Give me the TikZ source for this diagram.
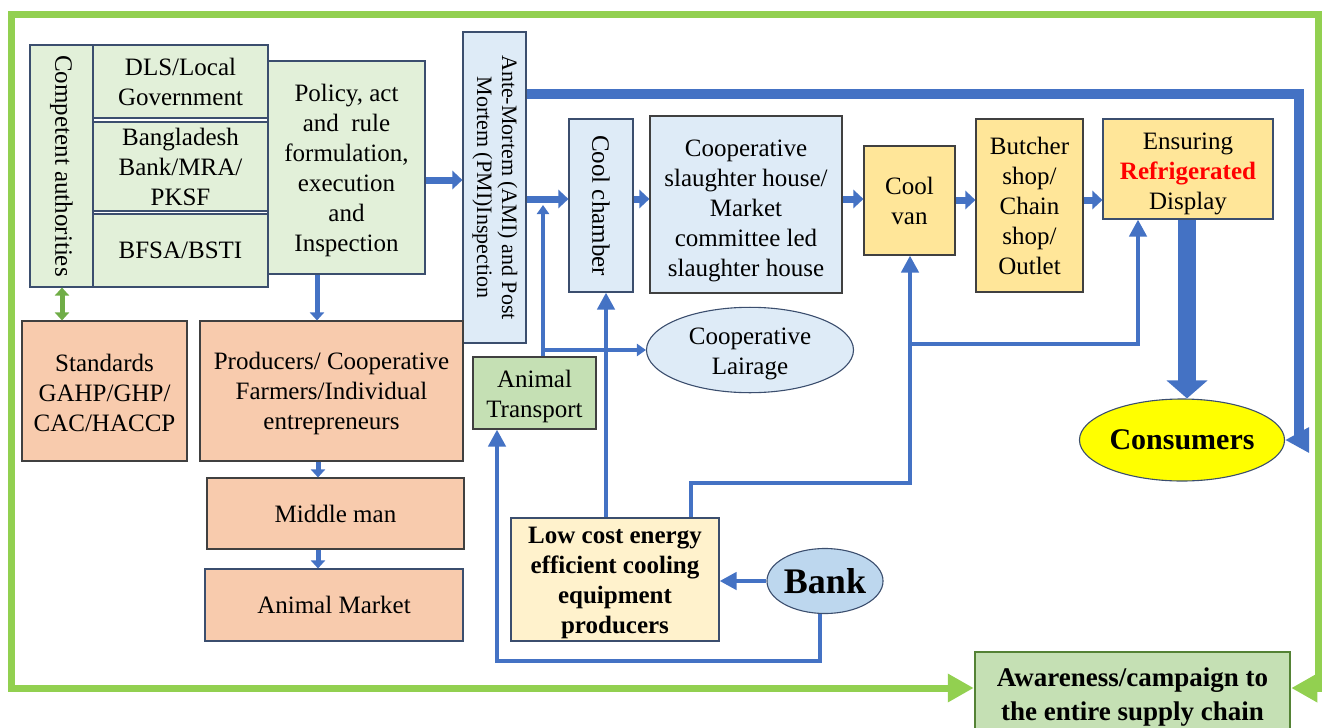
\documentclass[tikz,border=0pt]{standalone}
\usepackage{fontspec}
\setmainfont{Liberation Serif}
\usepackage{graphicx}
\usetikzlibrary{arrows.meta,shapes.geometric}
\definecolor{cFrame}{HTML}{92D050}
\definecolor{cGreenL}{HTML}{E2F0D9}
\definecolor{cGreenM}{HTML}{C5E0B4}
\definecolor{cGreenD}{HTML}{548235}
\definecolor{cGreenA}{HTML}{70AD47}
\definecolor{cPeach}{HTML}{F8CBAD}
\definecolor{cLBlue}{HTML}{DEEBF7}
\definecolor{cMBlue}{HTML}{BDD7EE}
\definecolor{cCream}{HTML}{FFF2CC}
\definecolor{cGold}{HTML}{FFE699}
\definecolor{cYellow}{HTML}{FFFF00}
\definecolor{cBlue}{HTML}{4472C4}
\definecolor{cEdge}{HTML}{404040}
\definecolor{cEdgeB}{HTML}{3B4E6E}
\definecolor{cRed}{HTML}{FF0000}
\newcommand{\tstrut}[1]{\rule{0pt}{#1pt}}
\begin{document}
\begin{tikzpicture}[x=1pt,y=-1pt,
  base/.style={draw=cEdge, line width=1.1pt, inner sep=0pt, align=center, font=\fontsize{25}{30}\selectfont},
  grn/.style={base, fill=cGreenL, draw=cEdgeB},
  peach/.style={base, fill=cPeach},
  lblue/.style={base, fill=cLBlue, draw=cEdgeB},
  gold/.style={base, fill=cGold},
  oval/.style={base, ellipse, draw=cEdgeB},
  hblk/.style={draw=cBlue, line width=7pt, -{Triangle[width=18pt,length=10pt]}},
  vblk/.style={draw=cBlue, line width=5pt, -{Triangle[width=14pt,length=8pt]}},
  conn/.style={draw=cBlue, line width=4.5pt},
  tipL/.style={-{Triangle[width=17pt,length=17pt]}},
  tipS/.style={-{Triangle[width=12pt,length=9pt]}},
  gline/.style={draw=cFrame, line width=7pt},
  gtip/.style={-{Triangle[width=27pt,length=26pt]}}
]
\clip (0,0) rectangle (1325,728);

% nodes
\node[grn, minimum width=63pt, minimum height=242pt] (CA) at (61.5,166) {\rotatebox{-90}{Competent authorities}};
\node[grn, minimum width=175pt, minimum height=73pt] (DLS) at (180.5,81.5) {\tstrut{19}DLS/Local\\Government};
\node[grn, minimum width=175pt, minimum height=89pt] (BB) at (180.5,166.5) {Bangladesh\\Bank/MRA/\\PKSF};
\node[grn, minimum width=175pt, minimum height=73pt] (BFSA) at (180.5,250.5) {BFSA/BSTI};
\node[grn, minimum width=157pt, minimum height=213pt] (Policy) at (346.5,167.5) {\tstrut{24}Policy, act\\and\ \ rule\\formulation,\\execution\\and\\Inspection};
\node[lblue, minimum width=63pt, minimum height=311pt] (AM) at (494.5,187.5) {\rotatebox{-90}{\fontsize{22}{25}\selectfont\begin{tabular}{@{}c@{}}Ante-Mortem (AMI) and Post\\Mortem (PMI)Inspection\end{tabular}}};
\node[peach, minimum width=165pt, minimum height=140pt] (Std) at (104.5,391) {\tstrut{21}Standards\\GAHP/GHP/\\CAC/HACCP};
\node[peach, minimum width=263pt, minimum height=140pt] (Prod) at (331.5,391) {\tstrut{23}Producers/ Cooperative\\Farmers/Individual\\entrepreneurs};
\node[peach, minimum width=257pt, minimum height=71pt] (Mid) at (335.5,513.5) {Middle man};
\node[peach, minimum width=258pt, minimum height=72pt, draw=cEdgeB] (AMk) at (334,605) {Animal Market};
\node[lblue, minimum width=64pt, minimum height=173pt] (Cool) at (601,205.5) {\rotatebox{-90}{Cool chamber}};
\node[lblue, draw=cEdge, minimum width=192pt, minimum height=177pt] (Sl) at (746,204.5) {\tstrut{29}Cooperative\\slaughter house/\\Market\\committee led\\slaughter house};
\node[base, fill=cGreenM, minimum width=123pt, minimum height=72pt] (AT) at (534.5,393) {\tstrut{25}Animal\\Transport};
\node[oval, fill=cLBlue, minimum width=207pt, minimum height=57pt] (Lair) at (750,350) {\tstrut{25}Cooperative\\Lairage};
\node[base, fill=cCream, draw=cEdgeB, minimum width=208pt, minimum height=123pt, font=\fontsize{25}{30}\selectfont\bfseries] (Low) at (615,579.5) {\tstrut{23}Low cost energy\\efficient cooling\\equipment\\producers};
\node[oval, fill=cMBlue, minimum width=109pt, minimum height=65pt, font=\fontsize{36}{40}\selectfont\bfseries] (Bank) at (825,581) {Bank};
\node[gold, minimum width=91pt, minimum height=109pt] (Van) at (909.5,200.5) {Cool\\van};
\node[gold, minimum width=107pt, minimum height=173pt] (But) at (1029.5,205.5) {Butcher\\shop/\\Chain\\shop/\\Outlet};
\node[gold, draw=cEdgeB, minimum width=170pt, minimum height=100pt] (Disp) at (1188,169) {\tstrut{27}Ensuring\\\textcolor{cRed}{\bfseries Refrigerated}\\Display};
\node[oval, fill=cYellow, minimum width=169pt, minimum height=82pt, font=\fontsize{30}{34}\selectfont\bfseries] (Cons) at (1182,440) {Consumers};
\node[base, fill=cGreenM, draw=cGreenD, line width=2.5pt, minimum width=315pt, minimum height=83pt, font=\fontsize{27}{34}\selectfont\bfseries] (Aw) at (1132.5,693.5) {\tstrut{25}Awareness/campaign to\\the entire supply chain};

% green frame
\draw[gline, gtip] (1318,14) -- (11,14) -- (11,688) -- (Aw.west |- 0,688);
\draw[gline, gtip] (1318,11) -- (1318,688) -- (Aw.east |- 0,688);

% block arrows
\draw[hblk] (Policy.east |- 0,180) -- (AM.west |- 0,180);
\draw[hblk] (AM.east |- 0,199) -- (Cool.west |- 0,199);
\draw[hblk] (Cool.east |- 0,199) -- (Sl.west |- 0,199);
\draw[hblk] (Sl.east |- 0,199) -- (Van.west |- 0,199);
\draw[hblk] (Van.east |- 0,200) -- (But.west |- 0,200);
\draw[hblk] (But.east |- 0,200) -- (Disp.west |- 0,200);
\draw[vblk] (Policy.south -| 317,0) -- (Prod.north -| 317,0);
\draw[vblk] (Prod.south -| 318,0) -- (Mid.north -| 318,0);
\draw[vblk] (Mid.south -| 318,0) -- (AMk.north -| 318,0);
\draw[draw=cGreenA, line width=5pt, {Triangle[width=14pt,length=8pt]}-{Triangle[width=14pt,length=8pt]}] (CA.south -| 62,0) -- (Std.north -| 62,0);

% thick connectors
\draw[draw=cBlue, line width=10pt, -{Triangle[width=24pt,length=24pt]}] (AM.east |- 0,94) -| (1299,440) -- (Cons.east);
\draw[draw=cBlue, line width=18pt, -{Triangle[width=40pt,length=18pt]}] (Disp.south -| 1187,0) -- (Cons.north -| 1187,0);

% thin connectors
\coordinate (jAT) at (543,205);
\draw[conn, tipS] (AT.north -| 543,0) -- (jAT);
\draw[conn, tipS] (Lair.west -| 543,0) -- (Lair.west);
\draw[conn, tipL] (Low.north -| 606,0) -- (Cool.south -| 606,0);
\draw[conn, tipL] (Low.north -| 691,0) |- (910,483) -- (Van.south -| 910,0);
\coordinate (jV) at (910,344);
\draw[conn, tipL] (jV) -| (Disp.south -| 1138,0);
\draw[conn, tipL] (Bank.west) -- (Low.east |- Bank.west);
\draw[conn, tipL] (Bank.south -| 820,0) |- (497,661) -- (AT.south -| 497,0);
\end{tikzpicture}
\end{document}
